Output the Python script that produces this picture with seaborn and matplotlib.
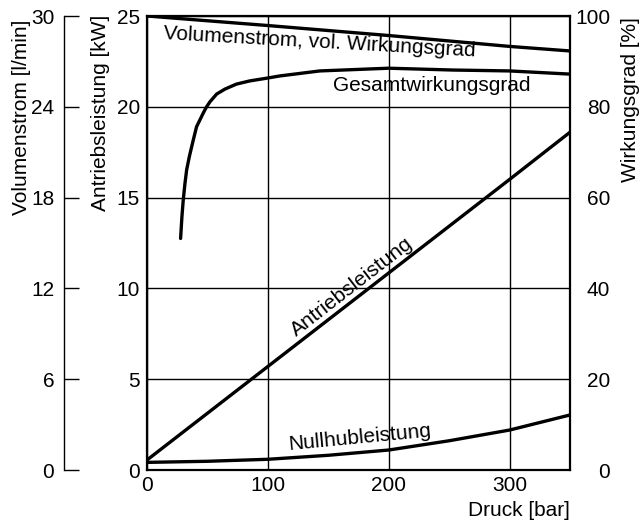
import matplotlib
matplotlib.use('Agg')
import matplotlib.pyplot as plt
import numpy as np
import pandas as pd
import seaborn as sns

# Druck [bar] und Kennlinien
druck_lin = [0, 100, 200, 300, 350]
vol_wirkungsgrad = [100.0, 97.9, 95.7, 93.3, 92.3]          # [%]
antriebsleistung = [0.55, 5.7, 10.85, 16.0, 18.6]           # [kW]

druck_null = [0, 50, 100, 150, 200, 250, 300, 350]
nullhubleistung = [0.42, 0.48, 0.59, 0.81, 1.10, 1.61, 2.20, 3.03]  # [kW]

druck_ges = [27.8, 28.9, 30.0, 31.4, 32.8, 35.0, 38.3, 41.0, 46.5, 49.3, 52.1,
             57.6, 64.5, 74, 85, 99, 110, 143, 200, 253, 300, 350]
gesamtwirkungsgrad = [51.0, 55.8, 59.5, 63.1, 66.1, 69.0, 72.7, 75.6, 78.6, 80.0, 81.1,
                      82.8, 83.9, 85.0, 85.7, 86.3, 86.8, 87.9, 88.5, 88.1, 87.9, 87.2]  # [%]

x_ticks = [0, 100, 200, 300]
kw_ticks = [0, 5, 10, 15, 20, 25]
lmin_ticks = [0, 6, 12, 18, 24, 30]
pct_ticks = [0, 20, 40, 60, 80, 100]

sns.set_style("white")
plt.rcParams['font.family'] = ['Liberation Sans', 'DejaVu Sans']
plt.rcParams['font.size'] = 15
for key in ['text.color', 'axes.labelcolor', 'xtick.color', 'ytick.color']:
    plt.rcParams[key] = 'black'

W, H = 641, 522
fig = plt.figure(figsize=(W / 100, H / 100), dpi=100)
x0, x1, y0, y1 = 147, 570, 16, 470
ax = fig.add_axes([x0 / W, (H - y1) / H, (x1 - x0) / W, (y1 - y0) / H])
ax2 = ax.twinx()
ax3 = ax.twinx()

lw = 2.4
sns.lineplot(x=druck_lin, y=antriebsleistung, ax=ax, color='black', lw=lw, estimator=None)
sns.lineplot(x=druck_null, y=nullhubleistung, ax=ax, color='black', lw=lw, estimator=None)
sns.lineplot(x=druck_lin, y=vol_wirkungsgrad, ax=ax2, color='black', lw=lw, estimator=None)
sns.lineplot(x=druck_ges, y=gesamtwirkungsgrad, ax=ax2, color='black', lw=lw, estimator=None)

# Hauptachse (kW)
ax.set_xlim(0, 350)
ax.set_ylim(0, 25)
ax.set_xticks(x_ticks)
ax.set_yticks(kw_ticks)
ax.tick_params(axis='both', length=0, labelsize=15, pad=4)
ax.tick_params(axis='y', pad=5)
ax.grid(True, color='black', lw=1.0)
for s in ax.spines.values():
    s.set_color('black')
    s.set_linewidth(1.6)
ax.set_xlabel('')
ax.set_ylabel('')
fig.text(x1 / W, 1 - 510 / H, 'Druck [bar]', ha='right', va='center', fontsize=15)
fig.text(100 / W, 1 - 113 / H, 'Antriebsleistung [kW]', rotation=90,
         ha='center', va='center', fontsize=15)

# Wirkungsgrad rechts (%)
ax2.set_ylim(0, 100)
ax2.set_yticks(pct_ticks)
ax2.tick_params(axis='y', length=0, labelsize=15, pad=29)
for lab in ax2.get_yticklabels():
    lab.set_horizontalalignment('right')
for s in ax2.spines.values():
    s.set_visible(False)
ax2.set_ylabel('')
fig.text(630 / W, 1 - 100 / H, 'Wirkungsgrad [%]', rotation=90,
         ha='center', va='center', fontsize=15)

# Volumenstrom links außen (l/min)
ax3.set_ylim(0, 30)
ax3.set_yticks(lmin_ticks)
for s in ax3.spines.values():
    s.set_visible(False)
ax3.spines['left'].set_visible(True)
ax3.spines['left'].set_position(('axes', -(x0 - 64) / (x1 - x0)))
ax3.spines['left'].set_linewidth(1.0)
ax3.spines['left'].set_color('black')
ax3.yaxis.set_ticks_position('left')
ax3.yaxis.set_label_position('left')
ax3.tick_params(axis='y', direction='in', length=11, width=1.0, labelsize=15, pad=7,
                color='black')
ax3.set_ylabel('')
fig.text(22 / W, 1 - 117 / H, 'Volumenstrom [l/min]', rotation=90,
         ha='center', va='center', fontsize=15)

# Kurvenbeschriftungen
ax2.text(143, 94.3, 'Volumenstrom, vol. Wirkungsgrad', rotation=-3.2,
         ha='center', va='center', fontsize=15)
ax2.text(235.5, 84.8, 'Gesamtwirkungsgrad', ha='center', va='center', fontsize=15)
ax.text(169.4, 10.1, 'Antriebsleistung', rotation=37.8,
        ha='center', va='center', fontsize=15)
ax.text(176, 1.78, 'Nullhubleistung', rotation=5.5,
        ha='center', va='center', fontsize=15)

fig.savefig('out.png', dpi=100)
plt.close(fig)
